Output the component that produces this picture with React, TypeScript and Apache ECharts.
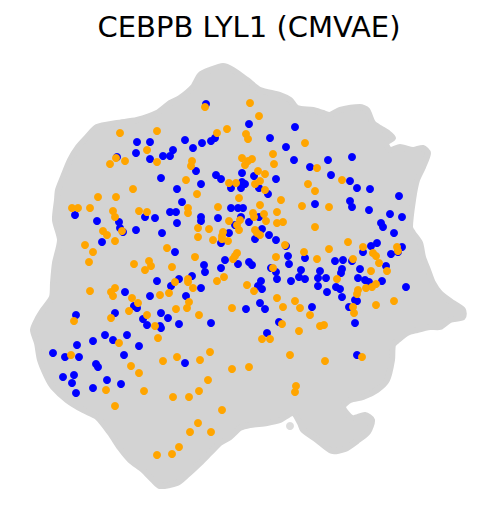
import React, { useEffect, useRef } from "react";
import * as echarts from "echarts";

const TITLE = "CEBPB LYL1 (CMVAE)";

// Outline of the grey background cloud (image coordinates)
const cloudOutline: number[][] = [
  [57, 200], [58, 190], [63, 177], [70, 160], [78, 147], [87, 137], [97, 127], [117, 123], [137, 120],
  [157, 113], [170, 103], [180, 98], [193, 87], [200, 75], [210, 70], [223, 66], [233, 70],
  [247, 80], [260, 90], [280, 95], [290, 100], [297, 108], [313, 110], [323, 113], [330, 115],
  [340, 110], [360, 107], [367, 110], [373, 123], [380, 128], [388, 133], [393, 138], [386, 143],
  [390, 150], [400, 147], [413, 150], [423, 148], [428, 153], [423, 167], [417, 180], [413, 200],
  [410, 227], [413, 233], [420, 243], [423, 257], [428, 270], [433, 283], [440, 293], [453, 303],
  [463, 310], [463, 317], [450, 320], [440, 327], [430, 327], [417, 330], [407, 333], [398, 340],
  [393, 345], [392, 360], [387, 380], [377, 390], [363, 397], [350, 400], [343, 407], [352, 418],
  [365, 415], [372, 420], [368, 432], [357, 441], [345, 449], [332, 451], [317, 440], [303, 430],
  [300, 423], [293, 413], [280, 420], [267, 423], [250, 425], [240, 428], [230, 437], [220, 443],
  [210, 453], [200, 463], [187, 475], [177, 483], [160, 486], [153, 480], [143, 470], [130, 460],
  [120, 448], [110, 433], [97, 417], [83, 410], [67, 400], [53, 387], [47, 377], [40, 360],
  [37, 343], [33, 330], [37, 320], [43, 310], [52, 297], [53, 283], [55, 263], [60, 240],
  [55, 220],
];

const bluePoints: number[][] = [
  [137, 142], [150, 142], [136, 153], [117, 157], [150, 159], [163, 156], [170, 156], [173, 150], [161, 178], [177, 189],
  [206, 104], [249, 124], [295, 127], [185, 140], [193, 148], [202, 143], [211, 141], [215, 138], [270, 138], [286, 147],
  [294, 160], [310, 167], [328, 160], [196, 171], [216, 175], [221, 179], [242, 173], [254, 176], [276, 179], [331, 175],
  [201, 184], [231, 188], [242, 182], [245, 184], [241, 188], [259, 188], [268, 194],
  [352, 157], [350, 181], [357, 188], [370, 189], [399, 196], [350, 201],
  [75, 215], [97, 221], [119, 222], [120, 228], [123, 232], [136, 230], [102, 242], [145, 217], [155, 218], [162, 233],
  [170, 212], [176, 212], [177, 223], [175, 252], [157, 281], [171, 286], [125, 292], [150, 296], [134, 306], [137, 308],
  [115, 313], [76, 315], [143, 319], [161, 313], [168, 318], [147, 325], [160, 326], [161, 328], [179, 324], [105, 335],
  [93, 341], [113, 340], [127, 335],
  [182, 202], [231, 208], [238, 208], [243, 208], [315, 204], [201, 217], [201, 221], [218, 218], [241, 217], [235, 225],
  [249, 222], [259, 217], [229, 233], [221, 243], [262, 229], [269, 235], [255, 239], [276, 240], [286, 246], [288, 256],
  [305, 258], [289, 264], [225, 260], [238, 264], [249, 262], [252, 265], [204, 265], [205, 272], [221, 268], [271, 268],
  [276, 272], [277, 279], [291, 281], [299, 277], [301, 270], [305, 279], [320, 271], [318, 278], [326, 278], [318, 286],
  [327, 292], [192, 276], [179, 279], [201, 288], [261, 281], [258, 286], [262, 289], [186, 296], [260, 303], [265, 309],
  [246, 309], [312, 307], [211, 323], [279, 322], [267, 333],
  [352, 207], [369, 210], [390, 214], [402, 217], [381, 223], [383, 227], [394, 233], [371, 246], [377, 243], [363, 252],
  [391, 254], [402, 247], [398, 252], [335, 261], [343, 260], [352, 261], [342, 269], [341, 273], [360, 269], [386, 266],
  [358, 278], [365, 280], [369, 282], [382, 281], [336, 287], [340, 289], [342, 297], [355, 300], [357, 301], [349, 307],
  [406, 287], [355, 323],
  [77, 345], [139, 346], [53, 353], [65, 357], [79, 357], [124, 355], [96, 364], [98, 367], [63, 377], [74, 375],
  [72, 383], [107, 380], [121, 384], [76, 393], [93, 388],
  [185, 363], [357, 355],
];

const orangePoints: number[][] = [
  [120, 133], [157, 131], [147, 150], [116, 158], [125, 161], [110, 164], [157, 162], [133, 189], [98, 197], [116, 197],
  [205, 107], [250, 103], [259, 116], [217, 133], [227, 129], [246, 134], [248, 139], [305, 143], [273, 154], [274, 164],
  [242, 158], [252, 159], [248, 161], [245, 165], [192, 161], [191, 166], [186, 180], [258, 171], [265, 174], [260, 181],
  [255, 184], [236, 183], [229, 183], [265, 190], [317, 168], [308, 184], [315, 191], [197, 194], [239, 198], [281, 200],
  [342, 180],
  [72, 208], [78, 208], [90, 208], [113, 211], [115, 217], [139, 211], [147, 212], [122, 231], [103, 231], [107, 235],
  [85, 245], [93, 252], [115, 241], [89, 262], [134, 264], [149, 261], [151, 266], [145, 270], [167, 248], [172, 267],
  [90, 291], [111, 292], [115, 288], [113, 296], [132, 298], [138, 303], [129, 311], [111, 318], [74, 321], [147, 315],
  [160, 295], [169, 293], [175, 282], [176, 309], [155, 326], [158, 338],
  [188, 208], [188, 213], [218, 207], [260, 205], [302, 206], [329, 207], [229, 221], [240, 220], [237, 225], [239, 230],
  [253, 213], [254, 217], [264, 214], [266, 221], [277, 212], [277, 223], [283, 222], [198, 228], [209, 229], [223, 232],
  [222, 236], [198, 237], [213, 240], [222, 239], [228, 241], [255, 230], [257, 233], [260, 235], [315, 227], [285, 245],
  [304, 252], [317, 259], [237, 253], [235, 256], [233, 259], [276, 257], [273, 268], [195, 257], [188, 279], [188, 282],
  [193, 288], [217, 281], [224, 277], [247, 285], [254, 291], [277, 298], [295, 301], [300, 308], [283, 307], [310, 315],
  [189, 302], [187, 308], [232, 308], [199, 315], [282, 324], [299, 331], [320, 326], [324, 325], [262, 339], [270, 339],
  [329, 249],
  [348, 242], [363, 247], [373, 253], [376, 256], [379, 263], [397, 247], [398, 251], [353, 259], [371, 271], [387, 271],
  [337, 279], [358, 290], [357, 294], [366, 288], [372, 287], [376, 284], [394, 301], [376, 305], [353, 307], [354, 313],
  [119, 343], [71, 355], [131, 366], [139, 373], [163, 361], [177, 357], [106, 390], [144, 391], [173, 397], [115, 406],
  [157, 455], [172, 454], [179, 447],
  [210, 352], [200, 360], [232, 369], [249, 367], [290, 355], [325, 361], [208, 380], [199, 391], [189, 397], [296, 386],
  [295, 392], [222, 410], [198, 423], [190, 432], [211, 432],
  [362, 357],
];

const strayGrey: number[][] = [[290, 426]];

export default function App() {
  const ref = useRef<HTMLDivElement>(null);
  useEffect(() => {
    document.body.style.margin = "0";
    const chart = echarts.init(ref.current!, null, { renderer: "svg" });
    chart.setOption({
      animation: false,
      backgroundColor: "#ffffff",
      title: {
        text: TITLE,
        left: "center",
        top: 7,
        textStyle: { fontFamily: "DejaVu Sans", fontSize: 29, fontWeight: "normal", color: "#000000" },
      },
      grid: { left: 0, right: 0, top: 0, bottom: 0 },
      xAxis: { type: "value", min: 0, max: 498, show: false },
      yAxis: { type: "value", min: 0, max: 520, inverse: true, show: false },
      series: [
        {
          type: "custom",
          data: [[0, 0]],
          silent: true,
          z: 1,
          renderItem: (_params: any, api: any) => {
            const pts = cloudOutline.map((p) => api.coord(p));
            return {
              type: "polygon",
              shape: { points: pts, smooth: 0.25 },
              style: { fill: "#d3d3d3", stroke: "#d3d3d3", lineWidth: 6, lineJoin: "round" },
            };
          },
        },
        {
          type: "scatter",
          data: strayGrey,
          symbolSize: 8,
          itemStyle: { color: "#d3d3d3" },
          z: 2,
        },
        {
          type: "scatter",
          name: "blue",
          data: bluePoints,
          symbolSize: 8,
          itemStyle: { color: "#0000ff", opacity: 1 },
          z: 3,
        },
        {
          type: "scatter",
          name: "orange",
          data: orangePoints,
          symbolSize: 8,
          itemStyle: { color: "#ffa500", opacity: 1 },
          z: 4,
        },
      ],
    });
    return () => chart.dispose();
  }, []);
  return <div ref={ref} style={{ width: 498, height: 520 }} />;
}
